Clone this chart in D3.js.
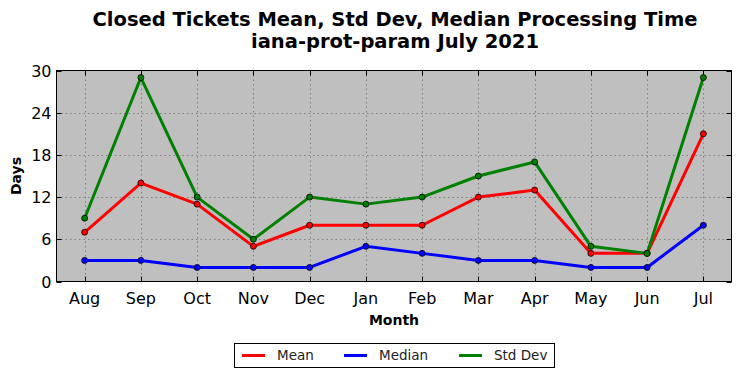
<!DOCTYPE html>
<meta charset="utf-8">
<style>
body { margin: 0; background: #fff; }
svg { font-family: 'DejaVu Sans', sans-serif; }
.grid line { stroke: #808080; stroke-dasharray: 1.5,3; stroke-width: 1; }
.tick-lbl { font-size: 16px; fill: #000; }
</style>
<svg width="742" height="378"></svg>
<script src="https://d3js.org/d3.v7.min.js"></script>
<script>
var months = ["Aug", "Sep", "Oct", "Nov", "Dec", "Jan", "Feb", "Mar", "Apr", "May", "Jun", "Jul"];
var meanVals = [7, 14, 11, 5, 8, 8, 8, 12, 13, 4, 4, 21];
var medianVals = [3, 3, 2, 2, 2, 5, 4, 3, 3, 2, 2, 8];
var stdVals = [9, 29, 12, 6, 12, 11, 12, 15, 17, 5, 4, 29];
var yTicks = [0, 6, 12, 18, 24, 30];

var series = [
  {name: "Mean", color: "#ff0000", values: meanVals},
  {name: "Median", color: "#0000ff", values: medianVals},
  {name: "Std Dev", color: "#008000", values: stdVals}
];

var svg = d3.select("svg");
var pLeft = 56.5, pRight = 731.5, pTop = 70.5, pBottom = 281.5;

var x = d3.scaleLinear().domain([-0.5, 11.5]).range([pLeft, pRight]);
var y = d3.scaleLinear().domain([0, 30]).range([pBottom, pTop]);

// plot background
svg.append("rect")
    .attr("x", pLeft).attr("y", pTop)
    .attr("width", pRight - pLeft).attr("height", pBottom - pTop)
    .attr("fill", "#bfbfbf");

// grid
var grid = svg.append("g").attr("class", "grid");
grid.selectAll(".gx").data(months).enter().append("line")
    .attr("x1", function(d, i) { return Math.round(x(i)) + 0.5; })
    .attr("x2", function(d, i) { return Math.round(x(i)) + 0.5; })
    .attr("y1", pTop).attr("y2", pBottom);
grid.selectAll(".gy").data(yTicks.slice(1, -1)).enter().append("line")
    .attr("y1", function(d) { return Math.round(y(d)) + 0.5; })
    .attr("y2", function(d) { return Math.round(y(d)) + 0.5; })
    .attr("x1", pLeft).attr("x2", pRight);

// inward ticks on all four sides
var ticks = svg.append("g").attr("stroke", "#000").attr("stroke-width", 1);
months.forEach(function(m, i) {
  var px = Math.round(x(i)) + 0.5;
  ticks.append("line").attr("x1", px).attr("x2", px).attr("y1", pBottom).attr("y2", pBottom - 5);
  ticks.append("line").attr("x1", px).attr("x2", px).attr("y1", pTop).attr("y2", pTop + 5);
});
yTicks.forEach(function(v) {
  var py = Math.round(y(v)) + 0.5;
  ticks.append("line").attr("x1", pLeft).attr("x2", pLeft + 5).attr("y1", py).attr("y2", py);
  ticks.append("line").attr("x1", pRight).attr("x2", pRight - 5).attr("y1", py).attr("y2", py);
});

// tick labels
svg.append("g").selectAll("text").data(months).enter().append("text")
    .attr("class", "tick-lbl")
    .attr("x", function(d, i) { return x(i); })
    .attr("y", pBottom + 22)
    .attr("text-anchor", "middle")
    .text(function(d) { return d; });
svg.append("g").selectAll("text").data(yTicks).enter().append("text")
    .attr("class", "tick-lbl")
    .attr("x", pLeft - 5)
    .attr("y", function(d) { return y(d) + 6; })
    .attr("text-anchor", "end")
    .text(function(d) { return d; });

// lines and markers
var line = d3.line()
    .x(function(d, i) { return x(i); })
    .y(function(d) { return y(d); });

series.forEach(function(s) {
  svg.append("path")
      .datum(s.values)
      .attr("d", line)
      .attr("fill", "none")
      .attr("stroke", s.color)
      .attr("stroke-width", 3)
      .attr("stroke-linejoin", "round");
});
series.forEach(function(s) {
  svg.append("g").selectAll("circle").data(s.values).enter().append("circle")
      .attr("cx", function(d, i) { return x(i); })
      .attr("cy", function(d) { return y(d); })
      .attr("r", 3)
      .attr("fill", s.color)
      .attr("stroke", "#000")
      .attr("stroke-width", 0.8);
});

// frame
svg.append("rect")
    .attr("x", pLeft).attr("y", pTop)
    .attr("width", pRight - pLeft).attr("height", pBottom - pTop)
    .attr("fill", "none").attr("stroke", "#000").attr("stroke-width", 1);

// titles
svg.append("text")
    .attr("x", 395).attr("y", 26)
    .attr("text-anchor", "middle")
    .attr("font-size", "19.5px").attr("font-weight", "bold")
    .text("Closed Tickets Mean, Std Dev, Median Processing Time");
svg.append("text")
    .attr("x", 395).attr("y", 48)
    .attr("text-anchor", "middle")
    .attr("font-size", "19.5px").attr("font-weight", "bold")
    .text("iana-prot-param July 2021");

svg.append("text")
    .attr("x", 394).attr("y", 325)
    .attr("text-anchor", "middle")
    .attr("font-size", "14px").attr("font-weight", "bold")
    .text("Month");
svg.append("text")
    .attr("transform", "translate(21,176) rotate(-90)")
    .attr("text-anchor", "middle")
    .attr("font-size", "14px").attr("font-weight", "bold")
    .text("Days");

// legend
var legend = svg.append("g");
legend.append("rect")
    .attr("x", 234.5).attr("y", 343.5)
    .attr("width", 320).attr("height", 24)
    .attr("fill", "#fff").attr("stroke", "#000").attr("stroke-width", 1);
var legendX = [242, 344, 459];
series.forEach(function(s, i) {
  legend.append("line")
      .attr("x1", legendX[i]).attr("x2", legendX[i] + 23)
      .attr("y1", 355.5).attr("y2", 355.5)
      .attr("stroke", s.color).attr("stroke-width", 3);
  legend.append("text")
      .attr("x", legendX[i] + 35).attr("y", 360)
      .attr("font-size", "13.5px")
      .attr("fill", "#222")
      .text(s.name);
});
</script>
